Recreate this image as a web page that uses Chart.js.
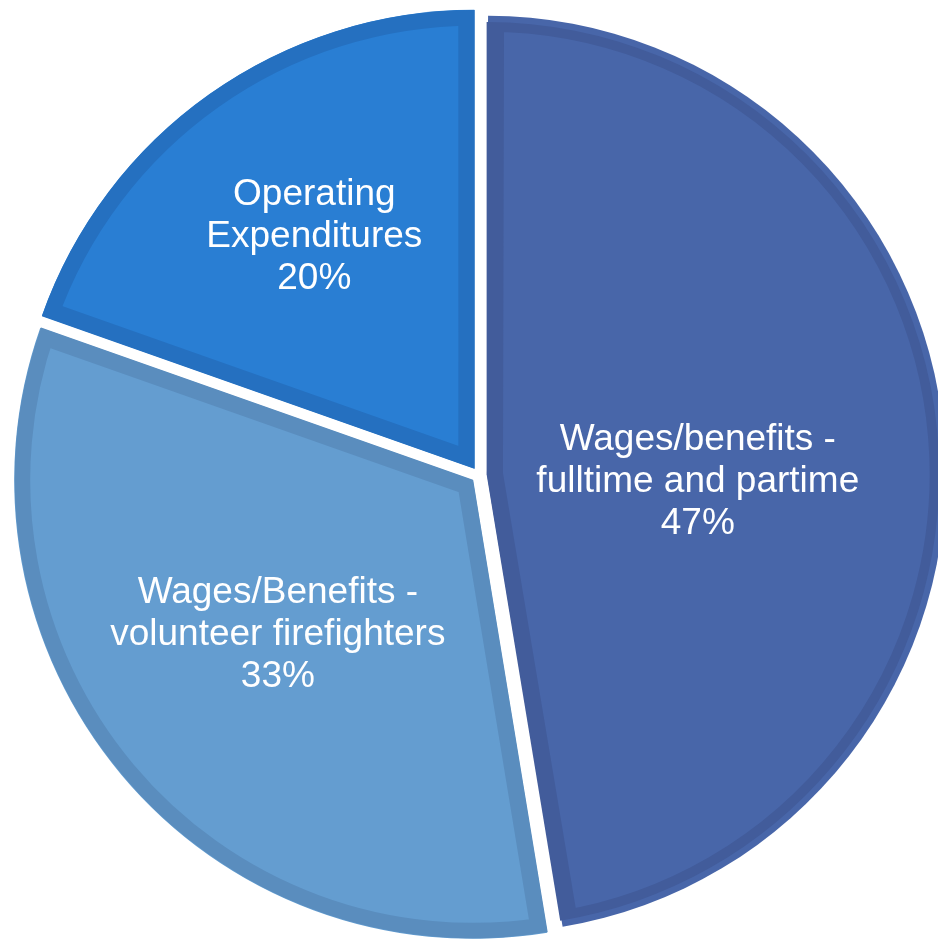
<!DOCTYPE html>
<html>
<head>
<meta charset="utf-8">
<script src="https://cdn.jsdelivr.net/npm/chart.js@4"></script>
<style>
  html, body { margin: 0; padding: 0; background: #fff; overflow: hidden; width: 938px; height: 945px; }
  #wrap { position: absolute; left: 0; top: 0; width: 958px; height: 950px; }
</style>
</head>
<body>
<div id="wrap"><canvas id="pie"></canvas></div>
<script>
  // slices, clockwise from 12 o'clock
  const categoryLines = [
    ["Wages/benefits -", "fulltime and partime"],
    ["Wages/Benefits -", "volunteer firefighters"],
    ["Operating", "Expenditures"]
  ];
  const shares = [47.4, 33.0, 19.6];
  const fillColors = ["#4866a9", "#649dd0", "#297ed3"];
  const edgeColors = ["#425c9b", "#5a8dbe", "#2570c0"];

  // where each label sits: fraction of radius, angle nudge in degrees
  const labelSpots = [[0.484, 6.5], [0.568, 1.5], [0.64, 0.6]];
  const explode = 32;

  const total = shares.reduce((a, b) => a + b, 0);

  // chart.js pushes arcs outwards a little when offset is set; keep one radius for all
  const evenRadius = {
    id: "evenRadius",
    afterUpdate(chart) {
      chart.getDatasetMeta(0).data.forEach((arc) => {
        const circ = arc.endAngle - arc.startAngle;
        const fix = 1 - Math.sin(Math.min(Math.PI, circ));
        arc.outerRadius -= (explode / 4) * fix;
      });
    }
  };

  const sliceLabels = {
    id: "sliceLabels",
    afterDatasetsDraw(chart) {
      const ctx = chart.ctx;
      const arcs = chart.getDatasetMeta(0).data;
      ctx.save();
      ctx.fillStyle = "#ffffff";
      ctx.font = '37px "Liberation Sans", Arial, sans-serif';
      ctx.textAlign = "center";
      ctx.textBaseline = "middle";
      arcs.forEach((arc, i) => {
        const [frac, nudge] = labelSpots[i];
        const mid = (arc.startAngle + arc.endAngle) / 2 + nudge * Math.PI / 180;
        const r = arcs[0].outerRadius * frac;
        const x = arc.x + Math.cos(mid) * r;
        const y = arc.y + Math.sin(mid) * r;
        const lines = [...categoryLines[i], Math.round(shares[i] / total * 100) + "%"];
        const lh = 42;
        lines.forEach((line, k) => {
          ctx.fillText(line, x, y + (k - (lines.length - 1) / 2) * lh);
        });
      });
      ctx.restore();
    }
  };

  new Chart(document.getElementById("pie"), {
    type: "pie",
    data: {
      labels: categoryLines.map((l) => l.join(" ")),
      datasets: [{
        data: shares,
        backgroundColor: fillColors,
        borderColor: edgeColors,
        borderWidth: 16,
        borderAlign: "inner",
        offset: explode,
        hoverOffset: explode
      }]
    },
    options: {
      responsive: true,
      maintainAspectRatio: false,
      animation: false,
      events: [],
      layout: { padding: 0 },
      plugins: { legend: { display: false }, tooltip: { enabled: false } }
    },
    plugins: [evenRadius, sliceLabels]
  });
</script>
</body>
</html>
